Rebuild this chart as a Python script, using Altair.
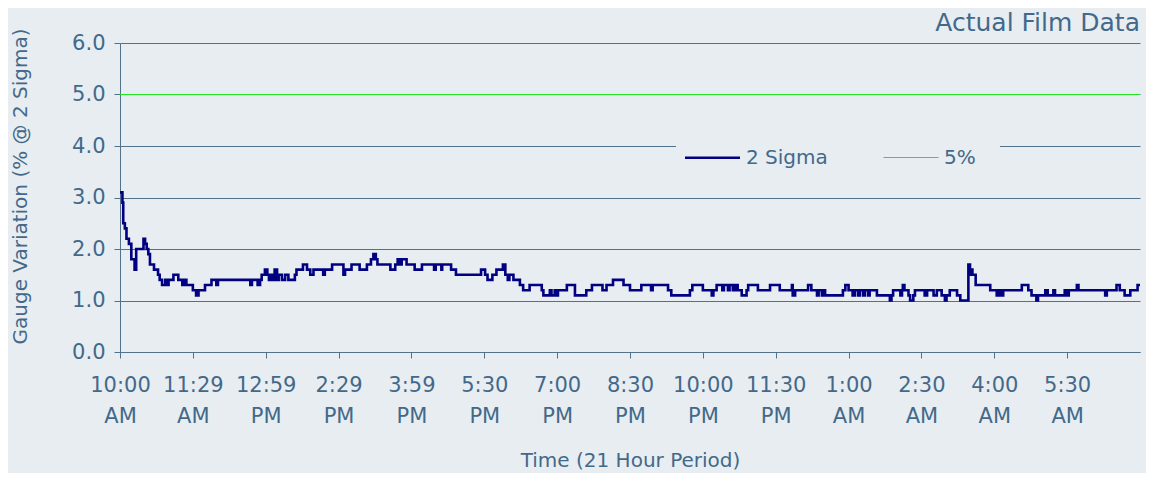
import json
import altair as alt
import pandas as pd

# ---- data (minutes since 10:00 AM, value) : step change points ----
sigma_t = [0, 3, 4, 6, 8, 11, 14, 18, 20, 29, 31, 33, 35, 37, 42, 47, 49, 52, 56, 58,
           60, 66, 72, 77, 80, 82, 90, 94, 97, 105, 113, 119, 121, 161, 163, 170, 173, 175, 179, 182,
           184, 186, 189, 191, 194, 196, 200, 204, 208, 216, 218, 226, 231, 235, 239, 251, 253, 262, 276, 278,
           286, 296, 305, 310, 313, 316, 318, 334, 340, 343, 345, 348, 354, 364, 373, 388, 390, 397, 398, 409,
           415, 446, 451, 454, 460, 465, 473, 476, 479, 481, 486, 494, 498, 506, 521, 523, 531, 533, 537, 539,
           541, 552, 562, 576, 583, 596, 601, 609, 622, 630, 644, 656, 658, 677, 681, 704, 707, 720, 731, 733,
           737, 744, 746, 751, 753, 757, 760, 763, 768, 774, 776, 788, 803, 815, 830, 831, 834, 850, 854, 861,
           863, 867, 869, 871, 893, 896, 900, 905, 908, 912, 914, 918, 920, 924, 926, 935, 951, 953, 955, 964,
           966, 967, 969, 974, 976, 980, 982, 994, 997, 1005, 1009, 1015, 1019, 1021, 1025, 1034, 1038, 1048, 1050, 1051,
           1053, 1057, 1075, 1083, 1086, 1088, 1091, 1114, 1122, 1126, 1132, 1134, 1143, 1146, 1153, 1155, 1167, 1170,
           1172, 1182, 1184, 1217, 1219, 1231, 1235, 1241, 1248, 1257, 1260]
sigma_v = [3.1, 2.9, 2.5, 2.4, 2.2, 2.1, 1.8, 1.6, 2.0, 2.2, 2.1, 2.0, 1.9, 1.7, 1.6, 1.5, 1.4, 1.3, 1.4, 1.3,
           1.4, 1.5, 1.4, 1.3, 1.4, 1.3, 1.2, 1.1, 1.2, 1.3, 1.4, 1.3, 1.4, 1.3, 1.4, 1.3, 1.4, 1.5, 1.6, 1.5,
           1.4, 1.5, 1.4, 1.6, 1.4, 1.5, 1.4, 1.5, 1.4, 1.5, 1.6, 1.7, 1.6, 1.5, 1.6, 1.5, 1.6, 1.7, 1.5, 1.6,
           1.7, 1.6, 1.7, 1.8, 1.9, 1.8, 1.7, 1.6, 1.7, 1.8, 1.7, 1.8, 1.7, 1.6, 1.7, 1.6, 1.7, 1.6, 1.7, 1.6,
           1.5, 1.6, 1.5, 1.4, 1.5, 1.6, 1.7, 1.5, 1.4, 1.5, 1.4, 1.3, 1.2, 1.3, 1.2, 1.1, 1.2, 1.1, 1.2, 1.1,
           1.2, 1.3, 1.1, 1.2, 1.3, 1.2, 1.3, 1.4, 1.3, 1.2, 1.3, 1.2, 1.3, 1.2, 1.1, 1.2, 1.3, 1.2, 1.1, 1.2,
           1.3, 1.2, 1.3, 1.2, 1.3, 1.2, 1.3, 1.2, 1.1, 1.2, 1.3, 1.2, 1.3, 1.2, 1.3, 1.1, 1.2, 1.3, 1.2, 1.1,
           1.2, 1.1, 1.2, 1.1, 1.2, 1.3, 1.2, 1.1, 1.2, 1.1, 1.2, 1.1, 1.2, 1.1, 1.2, 1.1, 1.0, 1.1, 1.2, 1.1,
           1.2, 1.3, 1.2, 1.1, 1.0, 1.1, 1.2, 1.1, 1.2, 1.1, 1.2, 1.1, 1.0, 1.1, 1.2, 1.1, 1.0, 1.7, 1.5, 1.6,
           1.5, 1.3, 1.2, 1.1, 1.2, 1.1, 1.2, 1.3, 1.2, 1.1, 1.0, 1.1, 1.2, 1.1, 1.2, 1.1, 1.2, 1.1,
           1.2, 1.3, 1.2, 1.1, 1.2, 1.3, 1.2, 1.1, 1.2, 1.3, 1.3]
limit_t = [0, 1260]
limit_v = [5.0, 5.0]
series_names = ["2 Sigma", "5%"]
series_colors = ["#000080", "#22e622"]
series_widths = [2.6, 1.2]

tick_minutes = [0, 90, 180, 270, 360, 450, 540, 630, 720, 810, 900, 990, 1080, 1170]
tick_labels = [["10:00", "AM"], ["11:29", "AM"], ["12:59", "PM"], ["2:29", "PM"], ["3:59", "PM"],
               ["5:30", "PM"], ["7:00", "PM"], ["8:30", "PM"], ["10:00", "PM"], ["11:30", "PM"],
               ["1:00", "AM"], ["2:30", "AM"], ["4:00", "AM"], ["5:30", "AM"]]
y_ticks = [0, 1, 2, 3, 4, 5, 6]

df = pd.concat([
    pd.DataFrame({"t": sigma_t, "v": sigma_v, "series": series_names[0]}),
    pd.DataFrame({"t": limit_t, "v": limit_v, "series": series_names[1]}),
])

TXT = "#43698a"
GRID = "#52728c"
BG = "#e8edf1"
FONT = "DejaVu Sans"

label_expr = f"{json.dumps(tick_labels)}[indexof({json.dumps(tick_minutes)}, datum.value)]"

chart = alt.Chart(df).mark_line(interpolate="step-after").encode(
    x=alt.X("t:Q", scale=alt.Scale(domain=[0, 1260], nice=False, zero=False),
            axis=alt.Axis(values=tick_minutes, labelExpr=label_expr, title="Time (21 Hour Period)",
                          grid=False, tickSize=6, labelPadding=16, labelLineHeight=31,
                          labelFontSize=21, titleFontSize=20, titlePadding=24,
                          labelOverlap=False, labelFlush=False, labelBound=False)),
    y=alt.Y("v:Q", scale=alt.Scale(domain=[0, 6], nice=False),
            axis=alt.Axis(values=y_ticks, format=".1f", title="Gauge Variation (% @ 2 Sigma)",
                          grid=True, tickSize=6, labelPadding=9, labelFontSize=21,
                          titleFontSize=20, titleX=-100, titleY=143, titleAlign="center",
                          titleBaseline="middle", titleAngle=270)),
    color=alt.Color("series:N", sort=series_names,
                    scale=alt.Scale(domain=series_names, range=series_colors), title=None),
    strokeWidth=alt.StrokeWidth("series:N", sort=series_names,
                                scale=alt.Scale(domain=series_names, range=series_widths), title=None),
).properties(
    width=1020, height=309,
    title=alt.TitleParams("Actual Film Data", anchor="end", fontSize=25, fontWeight="normal",
                          color=TXT, font=FONT, offset=2, dy=10, frame="group"),
    padding={"left": 112, "top": 35, "right": 6, "bottom": 121},
    autosize=alt.AutoSizeParams(type="none"),
    background=BG,
).configure_view(stroke=None).configure_axis(
    domainColor=GRID, tickColor=GRID, gridColor=GRID, gridWidth=1, domainWidth=1,
    labelColor=TXT, titleColor=TXT, labelFont=FONT, titleFont=FONT, titleFontWeight="normal",
).configure_legend(
    orient="none", legendX=556, legendY=78, direction="horizontal",
    fillColor=BG, padding=24, symbolType="M-2.5,0H2.5", symbolSize=484,
    labelFontSize=20, labelFont=FONT, labelColor=TXT, labelOffset=21, columnPadding=53,
)

chart.save("out.html", embed_options={"renderer": "svg", "actions": False})
